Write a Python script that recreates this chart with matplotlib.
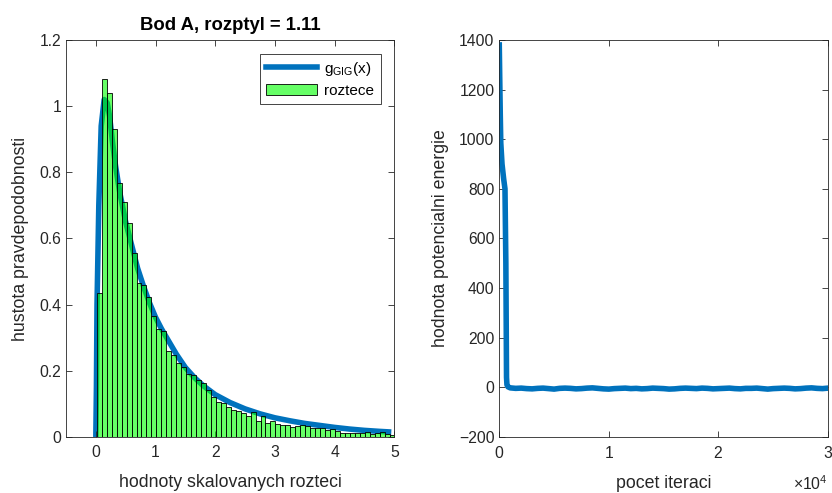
import numpy as np
import matplotlib
matplotlib.use('Agg')
import matplotlib.pyplot as plt
from matplotlib.ticker import FormatStrFormatter
from matplotlib.patches import Patch
from matplotlib.lines import Line2D

plt.rcParams['font.family'] = ['Liberation Sans', 'DejaVu Sans']
plt.rcParams['mathtext.fontset'] = 'custom'
plt.rcParams['mathtext.rm'] = 'Liberation Sans'
plt.rcParams['mathtext.it'] = 'Liberation Sans:italic'

# histogram of scaled spacings (bar heights)
bin_start = 0.017
bin_width = 0.0831
hist_heights = [0.434, 1.081, 1.041, 0.930, 0.769, 0.711, 0.648, 0.555, 0.465, 0.459,
                0.422, 0.366, 0.326, 0.321, 0.261, 0.247, 0.225, 0.211, 0.190, 0.187,
                0.172, 0.162, 0.142, 0.120, 0.107, 0.104, 0.092, 0.082, 0.079, 0.073,
                0.063, 0.077, 0.049, 0.063, 0.043, 0.049, 0.039, 0.036, 0.036, 0.031,
                0.033, 0.036, 0.034, 0.028, 0.028, 0.026, 0.021, 0.023, 0.018, 0.013,
                0.013, 0.011, 0.013, 0.011, 0.016, 0.009, 0.011, 0.014, 0.009, 0.007]

# GIG density curve
gig_x = [0, 0.01, 0.02, 0.05, 0.09, 0.14, 0.19, 0.23, 0.28, 0.33, 0.4, 0.5, 0.6, 0.7,
         0.8, 0.9, 1.0, 1.1, 1.2, 1.35, 1.5, 1.65, 1.8, 2.0, 2.25, 2.5, 2.75, 3.0,
         3.25, 3.5, 3.75, 4.0, 4.25, 4.5, 4.75, 4.95]
gig_y = [0, 0.15, 0.40, 0.70, 0.94, 1.02, 1.01, 0.97, 0.89, 0.82, 0.74, 0.65, 0.58, 0.51,
         0.455, 0.405, 0.362, 0.327, 0.296, 0.25, 0.21, 0.18, 0.155, 0.128, 0.104, 0.085,
         0.07, 0.058, 0.049, 0.041, 0.035, 0.029, 0.024, 0.02, 0.017, 0.015]

# potential energy vs iteration
it_start = [0, 40, 90, 137, 250, 400, 520, 600, 640, 660, 700, 800]
en_start = [1380, 1250, 1100, 985, 900, 840, 800, 500, 200, 40, 10, 2]
it_flat = list(range(1000, 30001, 500))
en_flat = [-2, -4, -3, -5, -6, -4, -3, -5, -7, -4, -3, -4, -6, -5, -3, -2, -4, -6, -7, -5,
           -4, -3, -5, -4, -6, -5, -3, -4, -5, -7, -6, -4, -3, -4, -5, -3, -4, -6, -5, -4,
           -3, -5, -6, -4, -4, -3, -5, -7, -5, -4, -3, -4, -6, -5, -3, -2, -4, -5, -3]
iterations = it_start + it_flat
energy = en_start + en_flat

blue = '#0072BD'
gray = '#262626'

fig = plt.figure(figsize=(8.32, 4.93), dpi=100)
ax1 = fig.add_axes([0.0793, 0.1136, 0.3946, 0.8053])
ax2 = fig.add_axes([0.6001, 0.1136, 0.3951, 0.8053])

# left: histogram + density
ax1.plot(gig_x, gig_y, color=blue, lw=4, solid_capstyle='butt', zorder=1)
edges = bin_start + bin_width * np.arange(len(hist_heights))
ax1.bar(edges, hist_heights, width=bin_width, align='edge',
        color=(0, 1, 0, 0.6), edgecolor='k', linewidth=0.6, zorder=2)
ax1.set_xlim(-0.5, 5)
ax1.set_ylim(0, 1.2)
ax1.set_xticks([0, 1, 2, 3, 4, 5])
ax1.set_yticks([0, 0.2, 0.4, 0.6, 0.8, 1.0, 1.2])
ax1.yaxis.set_major_formatter(FormatStrFormatter('%g'))
ax1.set_title('Bod A, rozptyl = 1.11', fontsize=13.3, fontweight='bold', pad=7)
ax1.set_xlabel('hodnoty skalovanych rozteci', fontsize=12.8, color=gray, labelpad=10)
ax1.set_ylabel('hustota pravdepodobnosti', fontsize=12.8, color=gray, labelpad=7)

handles = [Line2D([], [], color=blue, lw=4),
           Patch(facecolor=(0, 1, 0, 0.6), edgecolor='k', linewidth=0.6)]
leg = ax1.legend(handles, [r'g$_\mathregular{GIG}$(x)', 'roztece'], loc='upper right',
                 fontsize=11, fancybox=False, edgecolor=gray, framealpha=1,
                 handlelength=3.3, borderaxespad=0.9, handletextpad=0.5,
                 borderpad=0.4, labelspacing=0.4)
leg.get_frame().set_linewidth(0.6)

# right: energy trace
ax2.plot(iterations, energy, color=blue, lw=4)
ax2.set_xlim(0, 30000)
ax2.set_ylim(-200, 1400)
ax2.set_xticks([0, 10000, 20000, 30000])
ax2.set_yticks(range(-200, 1401, 200))
ax2.ticklabel_format(axis='x', style='sci', scilimits=(4, 4), useMathText=True)
ax2.xaxis.get_offset_text().set_visible(False)
ax2.text(1.0, -0.118, r'$\times$10$^4$', transform=ax2.transAxes, ha='right',
         va='center', fontsize=11.3, color=gray)
ax2.set_xlabel('pocet iteraci', fontsize=12.8, color=gray, labelpad=10)
ax2.set_ylabel('hodnota potencialni energie', fontsize=12.8, color=gray, labelpad=7)

for ax in (ax1, ax2):
    ax.tick_params(direction='in', top=True, right=True, length=4, width=0.6,
                   labelsize=11.3, colors=gray)
    ax.tick_params(axis='x', pad=5.5)
    for s in ax.spines.values():
        s.set_linewidth(0.6)
        s.set_color(gray)

fig.savefig('out.png', dpi=100)
